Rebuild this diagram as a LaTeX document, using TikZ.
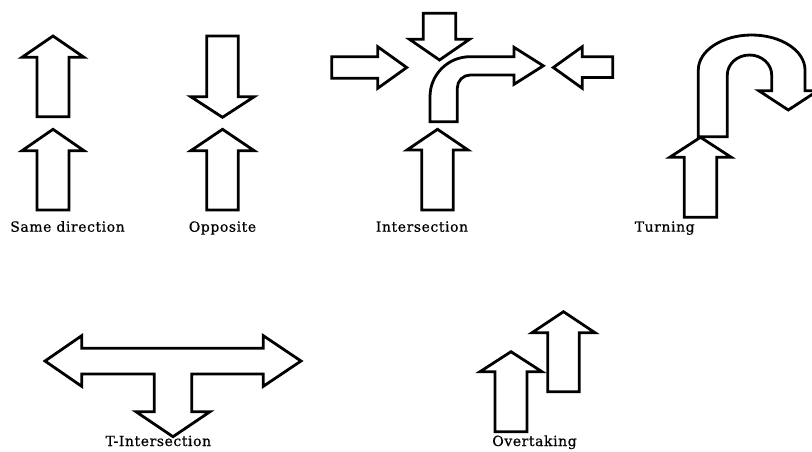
\documentclass[tikz,border=0pt]{standalone}
\usepackage{fontspec}
\setmainfont{DejaVu Serif}[LetterSpace=4, FakeBold=0.6]
\usetikzlibrary{positioning}
\tikzset{
    blockarr/.style = {draw=black, line width=2.8pt, line join=miter, fill=white},
    caption/.style = {anchor=base, inner sep=0pt, font=\fontsize{14}{16}\selectfont, text=black},
}

\begin{document}
\begin{tikzpicture}[x=1pt, y=-1pt]
\path[use as bounding box] (0,0) rectangle (812,451);
% same direction
\draw[blockarr] (37,116.7) -- (37,57.3) -- (22,57.3) -- (53,36) -- (84,57.3) -- (69,57.3) -- (69,116.7) -- cycle;
\draw[blockarr] (37,210) -- (37,150.7) -- (22,150.7) -- (53,129.3) -- (84,150.7) -- (69,150.7) -- (69,210) -- cycle;
\node[caption] (lblsame) at (67.5,231.7) {Same direction};
% opposite
\draw[blockarr] (206.7,36) -- (238.3,36) -- (238.3,96.7) -- (254.2,96.7) -- (222.5,117.3) -- (190.8,96.7) -- (206.7,96.7) -- cycle;
\draw[blockarr] (206.7,210) -- (206.7,150.7) -- (190.8,150.7) -- (222.5,129.3) -- (254.2,150.7) -- (238.3,150.7) -- (238.3,210) -- cycle;
\node[caption] (lblopp) at (222.5,231.7) {Opposite};
% intersection
\draw[blockarr] (423.3,13.3) -- (455.7,13.3) -- (455.7,39.3) -- (469.5,39.3) -- (439.5,60) -- (409.5,39.3) -- (423.3,39.3) -- cycle;
\draw[blockarr] (331.7,56.7) -- (377.7,56.7) -- (377.7,46.7) -- (406.7,67.5) -- (377.7,88.3) -- (377.7,78.3) -- (331.7,78.3) -- cycle;
\draw[blockarr] (612.7,56.7) -- (582.3,56.7) -- (582.3,46.7) -- (553.3,67.5) -- (582.3,88.3) -- (582.3,77.5) -- (612.7,77.5) -- cycle;
\draw[blockarr] (430,121.7) -- (430,96.7) arc[start angle=180, end angle=270, radius=40]
    -- (514,56.7) -- (514,47.3) -- (543.3,65.8) -- (514,84.3) -- (514,75) -- (470.3,75)
    arc[start angle=270, end angle=180, radius=13] -- (457.3,121.7) -- cycle;
\draw[blockarr] (421.7,210) -- (421.7,150) -- (407,150) -- (437.5,129.3) -- (468,150) -- (453.3,150) -- (453.3,210) -- cycle;
\node[caption] (lblint) at (422,231.7) {Intersection};
% turning
\draw[blockarr] (698.3,136.7) -- (698.3,70) arc[start angle=180, end angle=360, x radius=53.35, y radius=35]
    -- (805,90.7) -- (817.8,90.7) -- (788.3,110) -- (758.8,90.7) -- (771.7,90.7) -- (771.7,75)
    arc[start angle=0, end angle=-180, x radius=22.2, y radius=20] -- (727.3,136.7) -- cycle;
\draw[blockarr] (684.3,217.3) -- (684.3,157.3) -- (669.7,157.3) -- (700.5,137.3) -- (731.3,157.3) -- (716.7,157.3) -- (716.7,217.3) -- cycle;
\node[caption] (lblturn) at (664.7,231.7) {Turning};
% t-intersection
\draw[blockarr] (45,361) -- (81.7,335.7) -- (81.7,348.3) -- (263.3,348.3) -- (263.3,335.7) -- (301,361)
    -- (263.3,386.3) -- (263.3,374) -- (191.7,374) -- (191.7,411.7) -- (210,411.7) -- (173,436.7)
    -- (136,411.7) -- (154.3,411.7) -- (154.3,374) -- (81.7,374) -- (81.7,386.3) -- cycle;
\node[caption] (lbltint) at (158.3,446) {T-Intersection};
% overtaking
\draw[blockarr] (495,431.7) -- (495,371.7) -- (480,371.7) -- (511,351.7) -- (542,371.7) -- (527,371.7) -- (527,431.7) -- cycle;
\draw[blockarr] (547.8,391.7) -- (547.8,332.7) -- (532,332.7) -- (563.5,311.7) -- (595,332.7) -- (579.2,332.7) -- (579.2,391.7) -- cycle;
\node[caption] (lblover) at (534.5,446) {Overtaking};
\end{tikzpicture}
\end{document}
